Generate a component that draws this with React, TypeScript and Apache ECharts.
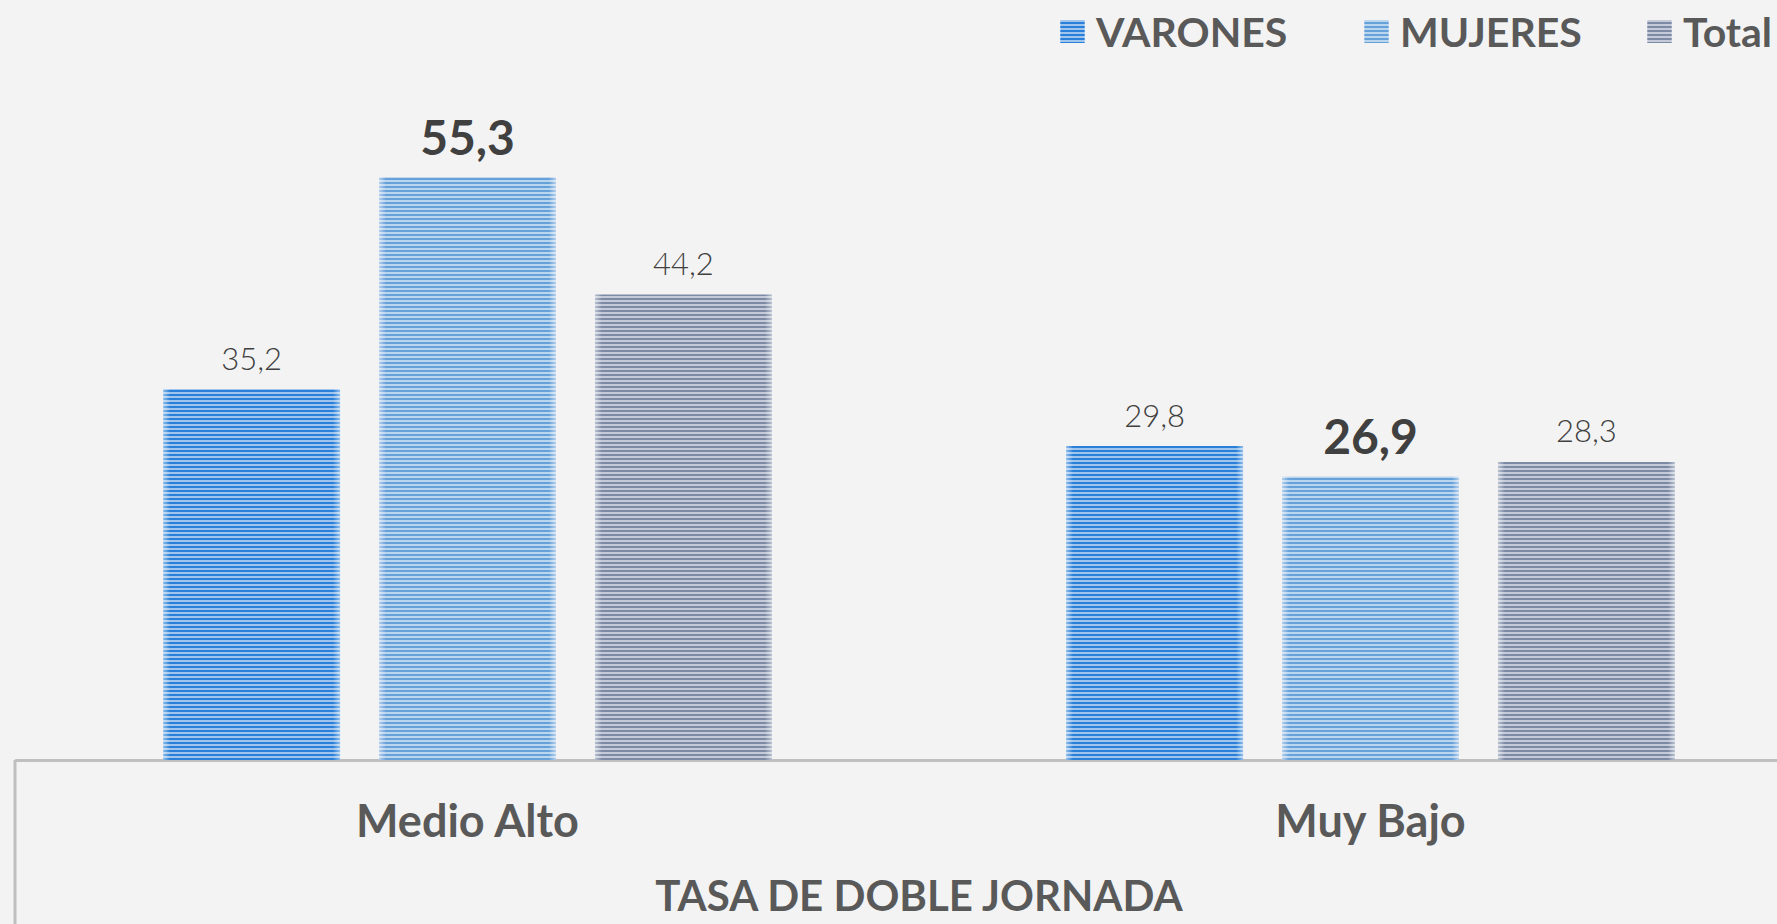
import React, { useEffect, useRef } from "react";
import * as echarts from "echarts";

const categories = ["Medio Alto", "Muy Bajo"];
const seriesNames = ["VARONES", "MUJERES", "Total"];
const varones = [35.2, 29.8];
const mujeres = [55.3, 26.9];
const total = [44.2, 28.3];
const axisTitle = "TASA DE DOBLE JORNADA";

const FONT = "Lato, 'Open Sans', sans-serif";

function gradient(base: string, edge: string) {
  return new echarts.graphic.LinearGradient(0, 0, 1, 0, [
    { offset: 0, color: edge },
    { offset: 0.04, color: base },
    { offset: 0.96, color: base },
    { offset: 1, color: edge },
  ]);
}

const decal = {
  symbol: "rect",
  symbolSize: 1,
  dashArrayX: [1, 0],
  dashArrayY: [1.5, 2],
  rotation: 0,
  color: "rgba(255,255,255,0.55)",
};

export default function App() {
  const ref = useRef<HTMLDivElement>(null);
  useEffect(() => {
    document.body.style.margin = "0";
    const chart = echarts.init(ref.current!, null, { renderer: "svg" });
    const fmt = (p: any) => String(p.value).replace(".", ",");
    const normalLabel = {
      show: true,
      position: "top",
      distance: 16,
      formatter: fmt,
      fontFamily: FONT,
      fontSize: 31,
      fontWeight: 300,
      color: "#404040",
    };
    const boldLabel = {
      ...normalLabel,
      distance: 17,
      fontSize: 48,
      fontWeight: "bold",
    };
    const colors = ["#2a7fd8", "#67a1da", "#7d8aa6"];
    const edges = ["#8fbdeb", "#b4cfec", "#b8c0d0"];
    const datas = [varones, mujeres, total];
    const legendLefts = [1055, 1359, 1642];
    chart.setOption({
      animation: false,
      backgroundColor: "#f3f3f3",
      textStyle: { fontFamily: FONT },
      legend: seriesNames.map((n, i) => ({
        data: [n],
        left: legendLefts[i],
        top: 6,
        itemWidth: 25,
        itemHeight: 23,
        icon: "rect",
        textStyle: {
          fontFamily: FONT,
          fontSize: 41,
          fontWeight: "bold",
          color: "#595959",
          padding: [0, 0, 0, 6],
        },
      })),
      grid: {
        left: 16,
        top: 128,
        right: 18,
        bottom: 164,
        containLabel: false,
        outerBoundsMode: "none",
      },
      xAxis: {
        type: "category",
        data: categories,
        axisLine: { show: true, lineStyle: { color: "#bfbfbf", width: 3 } },
        axisTick: { show: false },
        axisLabel: {
          margin: 37,
          fontFamily: FONT,
          fontSize: 45,
          fontWeight: "bold",
          color: "#595959",
        },
        name: axisTitle,
        nameLocation: "middle",
        nameGap: 114,
        nameTextStyle: {
          fontFamily: FONT,
          fontSize: 42,
          lineHeight: 42,
          fontWeight: "bold",
          color: "#595959",
        },
      },
      yAxis: {
        type: "value",
        min: 0,
        max: 60,
        show: false,
        splitLine: { show: false },
      },
      graphic: [
        {
          type: "line",
          shape: { x1: 15, y1: 760, x2: 15, y2: 924 },
          style: { stroke: "#bfbfbf", lineWidth: 3 },
          z: 10,
        },
      ],
      series: seriesNames.map((n, i) => ({
        name: n,
        type: "bar",
        data: datas[i],
        barWidth: "19.6%",
        barGap: "22%",
        itemStyle: { color: gradient(colors[i], edges[i]), decal },
        label: i === 1 ? boldLabel : normalLabel,
      })),
    });
    return () => chart.dispose();
  }, []);
  return (
    <div style={{ width: 1777, height: 924, overflow: "hidden", position: "relative" }}>
      <div ref={ref} style={{ width: 1840, height: 924 }} />
    </div>
  );
}
